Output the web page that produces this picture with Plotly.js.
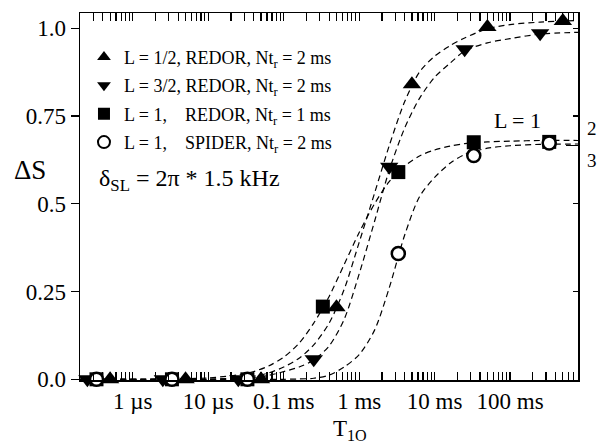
<!DOCTYPE html>
<html>
<head>
<meta charset="utf-8">
<script src="https://cdn.plot.ly/plotly-3.0.1.min.js"></script>
<style>
  html, body { margin: 0; padding: 0; background: #fff; }
  #chart { width: 603px; height: 447px; }
</style>
</head>
<body>
<div id="chart"></div>
<script>
// Measured points (T1O in seconds, ΔS)
const tHalf = [5e-7, 5e-6, 5e-5, 5e-4, 5e-3, 5e-2, 5e-1];
const dsHalf = [0, 0, 0, 0.205, 0.84, 1.003, 1.02];

const tThreeHalf = [2.5e-7, 2.5e-6, 2.5e-5, 2.5e-4, 2.5e-3, 2.5e-2, 2.5e-1];
const dsThreeHalf = [0, 0, 0, 0.057, 0.605, 0.94, 0.985];

const tOneRedor = [3.3e-7, 3.3e-6, 3.3e-5, 3.3e-4, 3.3e-3, 3.3e-2, 3.3e-1];
const dsOneRedor = [0, 0, 0, 0.207, 0.59, 0.675, 0.676];

const tOneSpider = [3.3e-7, 3.3e-6, 3.3e-5, 3.3e-4, 3.3e-3, 3.3e-2, 3.3e-1];
const dsOneSpider = [0, 0, 0, -0.005, 0.358, 0.637, 0.673];

// Simulated curves sampled on a common T1O grid
const tCurve = [2.0e-7, 1e-5, 2.5e-5, 4.0e-5, 6.3e-5, 1e-4, 1.6e-4, 2.5e-4, 4.0e-4, 6.3e-4,
                1e-3, 1.6e-3, 2.5e-3, 4.0e-3, 6.3e-3, 1e-2, 1.6e-2, 2.5e-2, 5.0e-2, 1e-1, 2.5e-1, 0.8];
const fitHalf = [0, 0, 0.004, 0.009, 0.018, 0.035, 0.06, 0.098, 0.16, 0.255,
                 0.39, 0.53, 0.665, 0.79, 0.875, 0.92, 0.95, 0.972, 0.998, 1.01, 1.017, 1.022];
const fitThreeHalf = [0, 0, 0.002, 0.005, 0.011, 0.022, 0.035, 0.055, 0.095, 0.17,
                      0.30, 0.45, 0.595, 0.715, 0.80, 0.86, 0.90, 0.935, 0.958, 0.97, 0.983, 0.988];
const fitOneRedor = [0, 0.004, 0.013, 0.022, 0.038, 0.063, 0.103, 0.16, 0.236, 0.326,
                     0.418, 0.50, 0.563, 0.607, 0.636, 0.653, 0.664, 0.671, 0.676, 0.678, 0.68, 0.68];
const fitOneSpider = [0, 0, 0, 0, 0, 0, 0.001, 0.003, 0.012, 0.035,
                      0.07, 0.14, 0.26, 0.41, 0.52, 0.575, 0.615, 0.64, 0.658, 0.665, 0.669, 0.67];

// Axis labelling
const decadeVals = [1e-6, 1e-5, 1e-4, 1e-3, 1e-2, 1e-1];
const decadeText = ['1 \u00b5s', '10 \u00b5s', '0.1 ms', '1 ms', '10 ms', '100 ms'];
const dsVals = [0, 0.25, 0.5, 0.75, 1.0];
const dsText = ['0.0', '0.25', '0.5', '0.75', '1.0'];
const rightTickVals = [0.25, 0.5, 0.75, 1.0];
const twoThirds = 2 / 3;

const SERIF = '"Liberation Serif", "Times New Roman", serif';
const NB = '\u00a0';
const Y_RANGE = [-0.002, 1.043];

function fitLine(y) {
  return {
    x: tCurve, y: y, mode: 'lines', type: 'scatter', showlegend: false,
    hoverinfo: 'skip',
    line: { color: '#000', width: 1.2, dash: '6px,4px', shape: 'spline', smoothing: 0.8 }
  };
}

function points(x, y, name, symbol, size, fill, group) {
  return {
    x: x, y: y, mode: 'markers', type: 'scatter', name: name,
    legendgroup: group, cliponaxis: false,
    marker: { symbol: symbol, size: size, color: fill,
              line: { color: '#000', width: fill === '#fff' ? 2.5 : 0 } }
  };
}

// empty traces so the right-hand frame axes are always laid out
function frameAxis(yaxisId) {
  return { x: [], y: [], type: 'scatter', mode: 'lines', yaxis: yaxisId,
           showlegend: false, hoverinfo: 'skip' };
}

const traces = [
  fitLine(fitHalf), fitLine(fitThreeHalf), fitLine(fitOneRedor), fitLine(fitOneSpider),
  points(tHalf, dsHalf, 'L = 1/2, REDOR, Nt<sub>r</sub> = 2 ms', 'triangle-up', 16, '#000', 'a'),
  points(tThreeHalf, dsThreeHalf, 'L = 3/2, REDOR, Nt<sub>r</sub> = 2 ms', 'triangle-down', 16, '#000', 'b'),
  points(tOneRedor, dsOneRedor, 'L = 1,' + NB + NB + NB + ' REDOR, Nt<sub>r</sub> = 1 ms', 'square', 14, '#000', 'c'),
  points(tOneSpider, dsOneSpider, 'L = 1,' + NB + NB + NB + ' SPIDER, Nt<sub>r</sub> = 2 ms', 'circle', 13, '#fff', 'd'),
  frameAxis('y2'), frameAxis('y3')
];

function label(text, x, y, size, xanchor) {
  return { text: text, xref: 'paper', yref: 'paper', x: x, y: y,
           xanchor: xanchor || 'center', yanchor: 'middle', showarrow: false,
           font: { family: SERIF, size: size, color: '#000' } };
}

const layout = {
  width: 603, height: 447,
  margin: { l: 80, r: 25, t: 13, b: 67 },
  paper_bgcolor: '#fff', plot_bgcolor: '#fff',
  font: { family: SERIF, size: 22, color: '#000' },
  showlegend: true,
  legend: {
    x: 0.008, y: 0.93, xanchor: 'left', yanchor: 'top',
    bgcolor: 'rgba(0,0,0,0)', borderwidth: 0,
    font: { family: SERIF, size: 18, color: '#000' },
    itemsizing: 'constant', tracegroupgap: 2, traceorder: 'grouped'
  },
  xaxis: {
    type: 'log', range: [-6.70, -0.10],
    tickmode: 'array', tickvals: decadeVals, ticktext: decadeText,
    ticks: 'inside', ticklen: 8, tickwidth: 1.2, tickcolor: '#000',
    minor: { ticks: 'inside', ticklen: 4, tickwidth: 1.2, tickcolor: '#000', dtick: 'D1', showgrid: false },
    showline: true, linecolor: '#000', linewidth: 1.5, mirror: 'allticks',
    showgrid: false, zeroline: false,
    tickfont: { family: SERIF, size: 23, color: '#000' }
  },
  yaxis: {
    range: Y_RANGE,
    tickmode: 'array', tickvals: dsVals, ticktext: dsText,
    ticks: 'outside', ticklen: 8, tickwidth: 1.2, tickcolor: '#000',
    showline: true, linecolor: '#000', linewidth: 1.5,
    showgrid: false, zeroline: false,
    tickfont: { family: SERIF, size: 23, color: '#000' }
  },
  yaxis2: {
    overlaying: 'y', side: 'right', range: Y_RANGE,
    tickmode: 'array', tickvals: rightTickVals,
    ticks: 'inside', ticklen: 5, tickwidth: 1.2, tickcolor: '#000',
    showticklabels: false, showline: true, linecolor: '#000', linewidth: 1.5,
    showgrid: false, zeroline: false
  },
  yaxis3: {
    overlaying: 'y', side: 'right', range: Y_RANGE,
    tickmode: 'array', tickvals: [twoThirds],
    ticks: 'inside', ticklen: 12, tickwidth: 1.2, tickcolor: '#000',
    showticklabels: false, showline: false,
    showgrid: false, zeroline: false
  },
  annotations: [
    label('\u0394S', -0.1, 0.572, 27),
    label('T<sub>1O</sub>', 0.542, -0.135, 23),
    label('\u03b4<sub>SL</sub> = 2\u03c0 * 1.5 kHz', 0.034, 0.545, 24, 'left'),
    label('L = 1', 0.878, 0.708, 22),
    label('2', 1.028, 0.684, 19),
    label('3', 1.028, 0.599, 19)
  ]
};

Plotly.newPlot('chart', traces, layout, { staticPlot: true, displayModeBar: false });
</script>
</body>
</html>
